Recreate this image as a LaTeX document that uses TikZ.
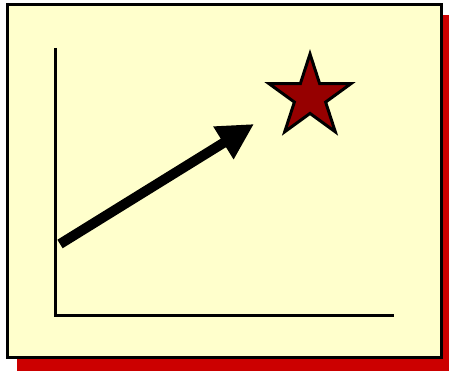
\documentclass[tikz,border=0pt]{standalone}
\usetikzlibrary{arrows.meta,shapes.geometric}
\definecolor{paperyellow}{RGB}{255,255,204}
\definecolor{shadowred}{RGB}{204,0,0}
\definecolor{starred}{RGB}{150,0,0}
\begin{document}
\begin{tikzpicture}[x=1pt,y=-1pt]
\useasboundingbox (0,0) rectangle (449,371);
\fill[shadowred] (17,15) rectangle (449,371);
\filldraw[fill=paperyellow,draw=black,line width=3pt] (7.5,4.5) rectangle (441.5,357.5);
\coordinate (ytop) at (55,48);
\coordinate (origin) at (55,315);
\coordinate (xend) at (394,315);
\draw[black,line width=3pt] (ytop) -- (origin) -- (xend);
\coordinate (rise) at (60,244);
\coordinate (goal) at (254,124);
\draw[black,line width=10pt,-{Triangle[length=36pt,width=36pt]}] (rise) -- (goal);
\node[star,star points=5,star point ratio=2.618,minimum size=86pt,inner sep=0pt,fill=starred,draw=black,line width=3pt] (target) at (310,97) {};
\end{tikzpicture}
\end{document}
